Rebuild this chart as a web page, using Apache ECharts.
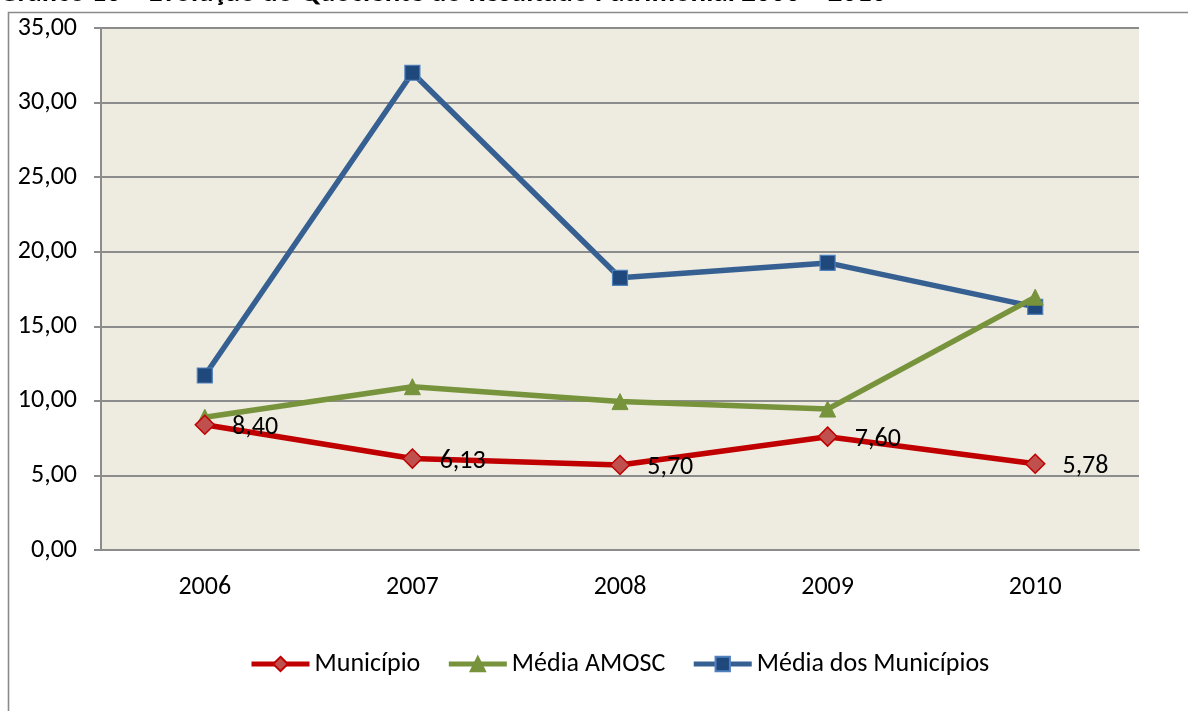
<!DOCTYPE html>
<html>
<head>
<meta charset="utf-8">
<script src="https://cdn.jsdelivr.net/npm/echarts@6/dist/echarts.min.js"></script>
<style>
html,body{margin:0;padding:0;background:#fff;}
#chart{width:1188px;height:711px;}
</style>
</head>
<body>
<div id="chart"></div>
<script>
const titleText = 'Gráfico 16 – Evolução do Quociente do Resultado Patrimonial 2006 – 2010';
const categories = ['2006', '2007', '2008', '2009', '2010'];
const municipio = [8.40, 6.13, 5.70, 7.60, 5.78];
const mediaAmosc = [8.90, 10.95, 9.95, 9.45, 16.95];
const mediaMunicipios = [11.70, 32.00, 18.25, 19.25, 16.30];
const seriesNames = ['Município', 'Média AMOSC', 'Média dos Municípios'];

const FONT = 'Carlito, "Open Sans", sans-serif';
const FS = 26;
const fmt = v => v.toFixed(2).replace('.', ',');

const chart = echarts.init(document.getElementById('chart'), null, {renderer: 'canvas'});
chart.setOption({
  animation: false,
  backgroundColor: '#ffffff',
  textStyle: {fontFamily: FONT},
  graphic: [
    {
      type: 'text', left: -1, top: -21, z: 10,
      style: {text: titleText, fontFamily: FONT, fontSize: 29, fontWeight: 'bold', fill: '#000'}
    },
    {
      type: 'rect', z: 0, silent: true,
      shape: {x: 8.5, y: 12.5, width: 1300, height: 800},
      style: {fill: 'none', stroke: '#8a8a8a', lineWidth: 1.6}
    }
  ],
  grid: {
    left: 101, right: 49, top: 28, bottom: 161,
    show: true, backgroundColor: '#EEEBE0', borderWidth: 0
  },
  legend: {
    left: 244, top: 646,
    itemWidth: 58, itemHeight: 18, itemGap: 26,
    lineStyle: {width: 5},
    textStyle: {fontFamily: FONT, fontSize: FS, color: '#000'},
    data: seriesNames
  },
  xAxis: {
    type: 'category', data: categories, boundaryGap: true,
    axisLine: {lineStyle: {color: '#8c8c8c', width: 2}},
    axisTick: {show: false},
    axisLabel: {fontFamily: FONT, fontSize: FS, color: '#000', margin: 24}
  },
  yAxis: {
    type: 'value', min: 0, max: 35, interval: 5,
    axisLine: {show: true, lineStyle: {color: '#8c8c8c', width: 2}},
    axisTick: {show: true, length: 7, lineStyle: {color: '#8c8c8c', width: 2}},
    splitLine: {show: true, lineStyle: {color: '#8c8c8c', width: 2}},
    axisLabel: {fontFamily: FONT, fontSize: FS, color: '#000', margin: 24, formatter: v => fmt(v)}
  },
  series: [
    {
      name: seriesNames[0], type: 'line', data: municipio, z: 5,
      symbol: 'diamond', symbolSize: 19,
      lineStyle: {color: '#C00000', width: 5.5},
      itemStyle: {color: '#C0504D', borderColor: '#C00000', borderWidth: 1.5},
      label: {
        show: true, position: 'right', distance: 17, offset: [0, 3],
        fontFamily: FONT, fontSize: FS, color: '#000',
        formatter: p => fmt(p.value)
      }
    },
    {
      name: seriesNames[1], type: 'line', data: mediaAmosc, z: 4,
      symbol: 'triangle', symbolSize: 16,
      lineStyle: {color: '#77933C', width: 5.5},
      itemStyle: {color: '#77933C', borderColor: '#77933C', borderWidth: 1}
    },
    {
      name: seriesNames[2], type: 'line', data: mediaMunicipios, z: 3,
      symbol: 'rect', symbolSize: 15,
      lineStyle: {color: '#376092', width: 5.5},
      itemStyle: {color: '#1F497D', borderColor: '#4F81BD', borderWidth: 1.2}
    }
  ]
});
</script>
</body>
</html>
